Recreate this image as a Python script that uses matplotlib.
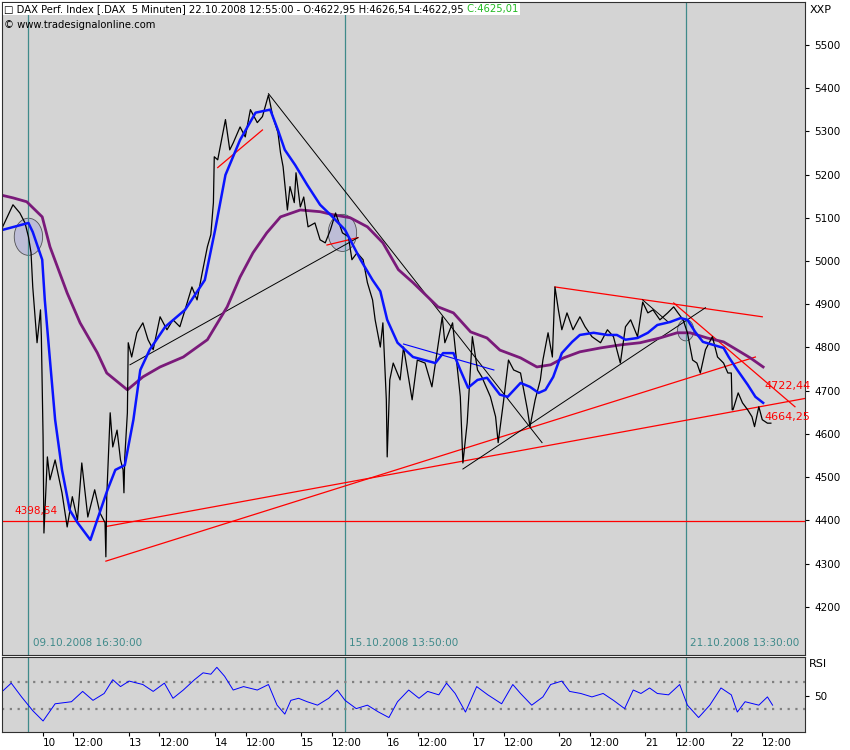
import matplotlib.pyplot as plt
from matplotlib.patches import Ellipse

# time axis: trading days since 10.10.2008 open (day 10 = 0, 12:00 = +0.353)
price_t = [-0.48, -0.47, -0.35, -0.27, -0.21, -0.17, -0.14, -0.12, -0.09, -0.07, -0.03, -0.02,
           0.00, 0.01, 0.05, 0.08, 0.14, 0.22, 0.28, 0.34, 0.40, 0.45, 0.52, 0.60, 0.66, 0.72,
           0.73, 0.74, 0.78, 0.81, 0.86, 0.90, 0.93, 0.94, 0.95, 0.98, 0.99, 1.03, 1.09, 1.16,
           1.22, 1.28, 1.36, 1.44, 1.51, 1.59, 1.65, 1.73, 1.79, 1.85, 1.91, 1.95, 1.98, 1.99,
           2.03, 2.12, 2.17, 2.21, 2.29, 2.35, 2.41, 2.49, 2.55, 2.62, 2.67, 2.73, 2.76, 2.79,
           2.84, 2.87, 2.92, 2.94, 2.99, 3.03, 3.08, 3.16, 3.22, 3.28, 3.34, 3.40, 3.48, 3.55,
           3.59, 3.65, 3.72, 3.77, 3.83, 3.86, 3.92, 3.95, 3.99, 4.00, 4.03, 4.07, 4.15, 4.19,
           4.29, 4.35, 4.44, 4.52, 4.64, 4.67, 4.76, 4.85, 4.88, 4.93, 4.99, 5.05, 5.10, 5.20,
           5.26, 5.29, 5.35, 5.41, 5.47, 5.55, 5.63, 5.66, 5.72, 5.78, 5.81, 5.87, 5.92, 5.95,
           5.99, 6.03, 6.09, 6.16, 6.24, 6.30, 6.38, 6.48, 6.56, 6.63, 6.71, 6.77, 6.83, 6.91,
           6.97, 7.03, 7.09, 7.17, 7.26, 7.33, 7.38, 7.44, 7.49, 7.55, 7.60, 7.64, 7.70, 7.78,
           7.84, 7.91, 7.96, 8.00, 8.01, 8.02, 8.08, 8.13, 8.19, 8.24, 8.27, 8.32, 8.36, 8.42, 8.46]
price = [5072, 5079, 5130, 5111, 5088, 5056, 5019, 4940, 4864, 4811, 4887, 4825,
         4593, 4371, 4547, 4494, 4540, 4464, 4385, 4455, 4401, 4533, 4408, 4471, 4418, 4395,
         4316, 4455, 4649, 4570, 4609, 4540, 4517, 4464, 4547, 4649, 4811, 4778, 4834, 4857,
         4818, 4795, 4871, 4841, 4864, 4848, 4887, 4940, 4910, 4973, 5033, 5061, 5135, 5241,
         5234, 5327, 5257, 5273, 5310, 5287, 5350, 5320, 5334, 5384, 5334, 5297, 5250, 5218,
         5118, 5172, 5135, 5204, 5125, 5148, 5079, 5088, 5049, 5042, 5072, 5111, 5065, 5056,
         5003, 5019, 5003, 4950, 4910, 4864, 4801, 4857, 4679, 4547, 4725, 4764, 4725, 4801,
         4679, 4771, 4764, 4709, 4871, 4811, 4857, 4686, 4533, 4626, 4825, 4748, 4732, 4686,
         4640, 4580, 4672, 4771, 4748, 4741, 4656, 4617, 4679, 4725, 4771, 4834, 4778, 4940,
         4887, 4841, 4880, 4841, 4871, 4848, 4825, 4811, 4841, 4825, 4764, 4848, 4864, 4825,
         4905, 4880, 4887, 4864, 4880, 4894, 4880, 4864, 4834, 4771, 4764, 4741, 4795, 4825,
         4778, 4764, 4741, 4741, 4656, 4656, 4695, 4672, 4656, 4640, 4617, 4663, 4633, 4625, 4625]

fast_t = [-0.47, -0.17, -0.12, -0.01, 0.02, 0.08, 0.14, 0.22, 0.31, 0.40, 0.55, 0.74, 0.84, 0.95,
          1.05, 1.13, 1.24, 1.42, 1.65, 1.88, 2.00, 2.12, 2.29, 2.47, 2.64, 2.73, 2.81, 2.93,
          3.07, 3.22, 3.34, 3.51, 3.69, 3.83, 3.92, 4.00, 4.12, 4.30, 4.56, 4.65, 4.77, 4.85,
          4.94, 5.05, 5.16, 5.31, 5.40, 5.55, 5.66, 5.76, 5.84, 5.93, 6.03, 6.15, 6.24, 6.40,
          6.56, 6.67, 6.77, 6.91, 7.03, 7.14, 7.29, 7.41, 7.49, 7.58, 7.67, 7.79, 7.91, 7.97,
          8.07, 8.19, 8.28, 8.37]
fast_ma = [5072, 5088, 5067, 5003, 4910, 4771, 4633, 4517, 4424, 4395, 4355, 4466, 4517, 4528,
           4633, 4748, 4795, 4848, 4887, 4956, 5072, 5199, 5280, 5343, 5350, 5303, 5257, 5222,
           5176, 5130, 5107, 5072, 5003, 4956, 4930, 4864, 4811, 4778, 4764, 4787, 4787, 4748,
           4707, 4725, 4730, 4691, 4686, 4718, 4709, 4695, 4702, 4732, 4787, 4813, 4829, 4834,
           4829, 4829, 4818, 4822, 4834, 4852, 4859, 4868, 4864, 4836, 4813, 4806, 4799, 4778,
           4748, 4714, 4686, 4672]

slow_t = [-0.50, -0.35, -0.19, -0.01, 0.08, 0.28, 0.43, 0.63, 0.74, 0.98, 1.16, 1.36, 1.63,
          1.91, 2.14, 2.29, 2.44, 2.60, 2.76, 2.99, 3.22, 3.37, 3.57, 3.77, 3.95, 4.13, 4.30,
          4.59, 4.77, 4.97, 5.16, 5.31, 5.55, 5.74, 5.90, 6.05, 6.24, 6.48, 6.71, 6.94, 7.17,
          7.37, 7.52, 7.72, 7.91, 8.07, 8.22, 8.37]
slow_ma = [5153, 5146, 5137, 5102, 5033, 4926, 4857, 4788, 4741, 4702, 4732, 4755, 4778,
           4818, 4894, 4963, 5019, 5065, 5102, 5118, 5114, 5107, 5100, 5079, 5042, 4980, 4950,
           4894, 4880, 4836, 4822, 4794, 4776, 4755, 4760, 4776, 4790, 4799, 4806, 4811, 4822,
           4834, 4834, 4822, 4813, 4794, 4776, 4755]

rsi_t = [-0.50, -0.37, -0.25, -0.12, 0.00, 0.14, 0.33, 0.46, 0.58, 0.71, 0.81, 0.90, 1.00, 1.16,
         1.28, 1.41, 1.51, 1.63, 1.76, 1.86, 1.95, 2.02, 2.11, 2.21, 2.33, 2.49, 2.62, 2.72,
         2.81, 2.88, 2.97, 3.07, 3.19, 3.32, 3.42, 3.51, 3.64, 3.77, 3.90, 4.02, 4.12, 4.25,
         4.37, 4.47, 4.60, 4.69, 4.79, 4.91, 5.04, 5.17, 5.33, 5.46, 5.55, 5.68, 5.81, 5.90,
         6.03, 6.12, 6.25, 6.38, 6.51, 6.63, 6.76, 6.86, 6.95, 7.05, 7.14, 7.27, 7.40, 7.49,
         7.62, 7.75, 7.88, 8.00, 8.07, 8.16, 8.32, 8.42, 8.48]
rsi = [53, 68, 48, 28, 13, 38, 41, 56, 43, 53, 73, 63, 71, 66, 56, 68, 46, 58, 73, 83, 81, 91,
       78, 58, 63, 58, 66, 36, 23, 43, 46, 41, 36, 46, 58, 43, 31, 36, 26, 18, 41, 58, 46, 56,
       51, 68, 53, 26, 63, 51, 38, 66, 53, 36, 48, 66, 71, 56, 53, 48, 53, 43, 31, 58, 53, 61,
       53, 51, 66, 36, 18, 36, 61, 51, 26, 41, 36, 48, 36]

# drawn trend lines: (t0, p0, t1, p1)
red_lines = [(0.73, 4386, 8.88, 4683), (0.73, 4306, 8.28, 4778), (5.95, 4940, 8.36, 4871),
             (7.33, 4903, 8.74, 4663), (2.03, 5216, 2.55, 5303), (3.30, 5037, 3.66, 5054)]
black_lines = [(2.62, 5387, 5.80, 4580), (1.01, 4760, 3.66, 5054), (4.88, 4519, 7.70, 4892),
               (6.97, 4910, 7.26, 4860)]
blue_lines = [(4.19, 4808, 5.24, 4748)]
support = 4398.54
vlines = [(-0.17, "09.10.2008 16:30:00"), (3.51, "15.10.2008 13:50:00"), (7.47, "21.10.2008 13:30:00")]
circles = [(-0.17, 5056, 0.33), (3.48, 5065, 0.33), (7.47, 4840, 0.19)]
day_labels = ["10", "13", "14", "15", "16", "17", "20", "21", "22"]

bg = "#d4d4d4"
teal = "#3f8a8a"
fig = plt.figure(figsize=(8.5, 7.5), dpi=100)
ax = fig.add_axes([0.0024, 0.1267, 0.945, 0.8707], facecolor=bg)
ax2 = fig.add_axes([0.0024, 0.024, 0.945, 0.1], facecolor=bg, sharex=ax)

for t, lab in vlines:
    ax.axvline(t, color=teal, lw=0.9)
    ax2.axvline(t, color=teal, lw=0.9)
    ax.text(t + 0.05, 4117, lab, color=teal, fontsize=7.5, va="center")
ax.axhline(support, color="red", lw=0.9)
ax.text(-0.33, support + 16, "4398,54", color="red", fontsize=7.5)
for t, p, w in circles:
    ax.add_patch(Ellipse((t, p), w, w * 260, facecolor="#b8b8d8", edgecolor="#333333", lw=0.6, alpha=0.8))
for x0, y0, x1, y1 in red_lines:
    ax.plot([x0, x1], [y0, y1], color="red", lw=0.9)
for x0, y0, x1, y1 in black_lines:
    ax.plot([x0, x1], [y0, y1], color="black", lw=0.7)
for x0, y0, x1, y1 in blue_lines:
    ax.plot([x0, x1], [y0, y1], color="blue", lw=0.8)

ax.plot(slow_t, slow_ma, color="#7a1a7a", lw=2)
ax.plot(price_t, price, color="black", lw=0.9)
ax.plot(fast_t, fast_ma, color="#0a14ff", lw=1.8)
ax.text(8.38, 4722.44 - 12, "4722,44", color="red", fontsize=8, va="center")
ax.text(8.38, 4664.25 - 25, "4664,25", color="red", fontsize=8, va="center")

ax.set_xlim(-0.477, 8.86)
ax.set_ylim(4089, 5599)
ax.yaxis.tick_right()
ax.set_yticks(range(4200, 5501, 100))
ax.tick_params(axis="y", labelsize=7.5, length=3, direction="out")
ax.tick_params(axis="x", bottom=False, labelbottom=False)
ax.text(1.005, 0.995, "XXP", transform=ax.transAxes, fontsize=8, va="top")
head = ax.text(0.003, 0.997,
               "\u25a1 DAX Perf. Index [.DAX  5 Minuten] 22.10.2008 12:55:00 - O:4622,95 H:4626,54 L:4622,95",
               transform=ax.transAxes, fontsize=7.2, va="top",
               bbox=dict(facecolor="white", edgecolor="none", pad=1))
ax.annotate(" C:4625,01", xy=(1, 0), xycoords=head, va="bottom", fontsize=7.2, color="#22bb22",
            bbox=dict(facecolor="white", edgecolor="none", pad=1))
ax.text(0.003, 0.972, "\u00a9 www.tradesignalonline.com", transform=ax.transAxes, fontsize=7.2, va="top")

for y in (30, 70):
    ax2.axhline(y, color="#808080", lw=1.6, ls=(0, (1, 2.5)))
ax2.plot(rsi_t, rsi, color="blue", lw=0.7)
ax2.set_ylim(-3, 106)
ax2.yaxis.tick_right()
ax2.set_yticks([50])
ax2.tick_params(axis="y", labelsize=7.5, length=3)
ax2.text(1.005, 0.97, "RSI", transform=ax2.transAxes, fontsize=8, va="top")

ticks, labels = [], []
for i, d in enumerate(day_labels):
    ticks += [i, i + 0.353]
    labels += [d, "12:00"]
ax2.set_xticks(ticks)
ax2.set_xticklabels(labels, fontsize=7.5, ha="left")
ax2.tick_params(axis="x", length=3, pad=1)

for a in (ax, ax2):
    for s in a.spines.values():
        s.set_color("#303030")

fig.savefig("out.png")
